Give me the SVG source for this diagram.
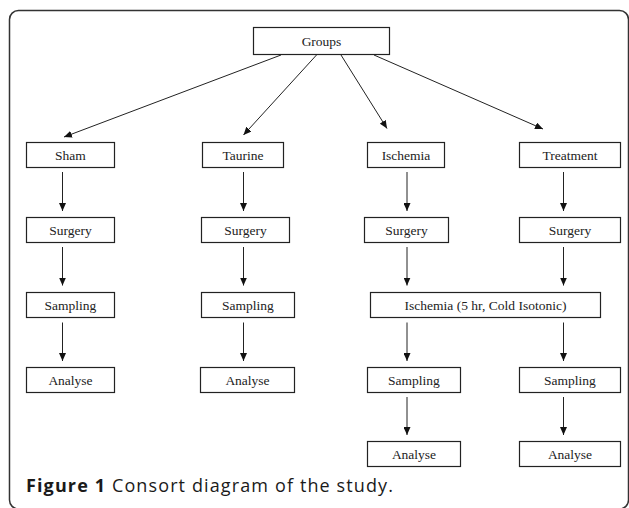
<svg xmlns="http://www.w3.org/2000/svg" width="629" height="508" viewBox="0 0 629 508">
<defs>
<marker id="ah" viewBox="0 0 8 7" refX="8" refY="3.5" markerWidth="8" markerHeight="7" markerUnits="userSpaceOnUse" orient="auto">
<path d="M0,0 L8,3.5 L0,7 z" fill="#111"/>
</marker>
<style>
.box{fill:#fff;stroke:#222;stroke-width:1.2}
.lbl{font-family:"Liberation Serif","Times New Roman",serif;font-size:13.5px;fill:#222;text-anchor:middle}
.con line{stroke:#222;stroke-width:1;marker-end:url(#ah)}
.cap{font-family:"Open Sans","Noto Sans",sans-serif;font-size:18px;fill:#1a1a1a}
</style>
</defs>
<rect x="9.5" y="10.5" width="619" height="498.5" rx="9" fill="#fff" stroke="#333" stroke-width="1.5"/>

<g id="groups"><rect class="box" x="253.5" y="27.5" width="136" height="27"/><text class="lbl" x="321.5" y="45.5">Groups</text></g>

<g id="sham"><rect class="box" x="26.5" y="142.5" width="88" height="25"/><text class="lbl" x="70.5" y="159.5">Sham</text></g>
<g id="taurine"><rect class="box" x="202.5" y="142.5" width="81" height="25"/><text class="lbl" x="243" y="159.5">Taurine</text></g>
<g id="ischemia"><rect class="box" x="367.5" y="142.5" width="77" height="25"/><text class="lbl" x="406" y="159.5">Ischemia</text></g>
<g id="treatment"><rect class="box" x="519.5" y="142.5" width="101" height="25"/><text class="lbl" x="570" y="159.5">Treatment</text></g>

<g id="surgery1"><rect class="box" x="26.5" y="217.5" width="88" height="25"/><text class="lbl" x="70.5" y="234.5">Surgery</text></g>
<g id="surgery2"><rect class="box" x="201.5" y="217.5" width="88" height="25"/><text class="lbl" x="245.5" y="234.5">Surgery</text></g>
<g id="surgery3"><rect class="box" x="364.5" y="217.5" width="84" height="25"/><text class="lbl" x="406.5" y="234.5">Surgery</text></g>
<g id="surgery4"><rect class="box" x="519.5" y="217.5" width="101" height="25"/><text class="lbl" x="570" y="234.5">Surgery</text></g>

<g id="sampling1"><rect class="box" x="26.5" y="292.5" width="88" height="25"/><text class="lbl" x="70.5" y="309.5">Sampling</text></g>
<g id="sampling2"><rect class="box" x="201.5" y="292.5" width="93" height="25"/><text class="lbl" x="248" y="309.5">Sampling</text></g>
<g id="ischemia-cold"><rect class="box" x="370.5" y="292.5" width="230" height="25"/><text class="lbl" x="485.5" y="309.5">Ischemia (5 hr, Cold Isotonic)</text></g>

<g id="analyse1"><rect class="box" x="26.5" y="367.5" width="88" height="25"/><text class="lbl" x="70.5" y="384.5">Analyse</text></g>
<g id="analyse2"><rect class="box" x="200.5" y="367.5" width="94" height="25"/><text class="lbl" x="247.5" y="384.5">Analyse</text></g>
<g id="sampling3"><rect class="box" x="367.5" y="367.5" width="93" height="25"/><text class="lbl" x="414" y="384.5">Sampling</text></g>
<g id="sampling4"><rect class="box" x="519.5" y="367.5" width="101" height="25"/><text class="lbl" x="570" y="384.5">Sampling</text></g>

<g id="analyse3"><rect class="box" x="367.5" y="441.5" width="93" height="25"/><text class="lbl" x="414" y="458.5">Analyse</text></g>
<g id="analyse4"><rect class="box" x="519.5" y="441.5" width="101" height="25"/><text class="lbl" x="570" y="458.5">Analyse</text></g>

<g id="connectors" class="con">
<line x1="281" y1="55" x2="64" y2="137"/>
<line x1="316.5" y1="55" x2="243.5" y2="135"/>
<line x1="341" y1="55" x2="387" y2="128.5"/>
<line x1="374" y1="55" x2="543" y2="129"/>

<line x1="62.5" y1="172" x2="62.5" y2="211"/>
<line x1="243.5" y1="172" x2="243.5" y2="211"/>
<line x1="407" y1="172" x2="407" y2="211"/>
<line x1="563.5" y1="172" x2="563.5" y2="211"/>

<line x1="62.5" y1="247" x2="62.5" y2="285.5"/>
<line x1="243.5" y1="247" x2="243.5" y2="285.5"/>
<line x1="407" y1="247" x2="407" y2="285.5"/>
<line x1="563.5" y1="247" x2="563.5" y2="285.5"/>

<line x1="62.5" y1="322.5" x2="62.5" y2="361"/>
<line x1="243.5" y1="322.5" x2="243.5" y2="361"/>
<line x1="407" y1="322.5" x2="407" y2="361"/>
<line x1="563.5" y1="322.5" x2="563.5" y2="361"/>

<line x1="407" y1="397" x2="407" y2="435"/>
<line x1="563.5" y1="397" x2="563.5" y2="435"/>
</g>

<text class="cap" x="26" y="492" textLength="367" lengthAdjust="spacing"><tspan font-weight="bold">Figure 1</tspan> Consort diagram of the study.</text>
</svg>
